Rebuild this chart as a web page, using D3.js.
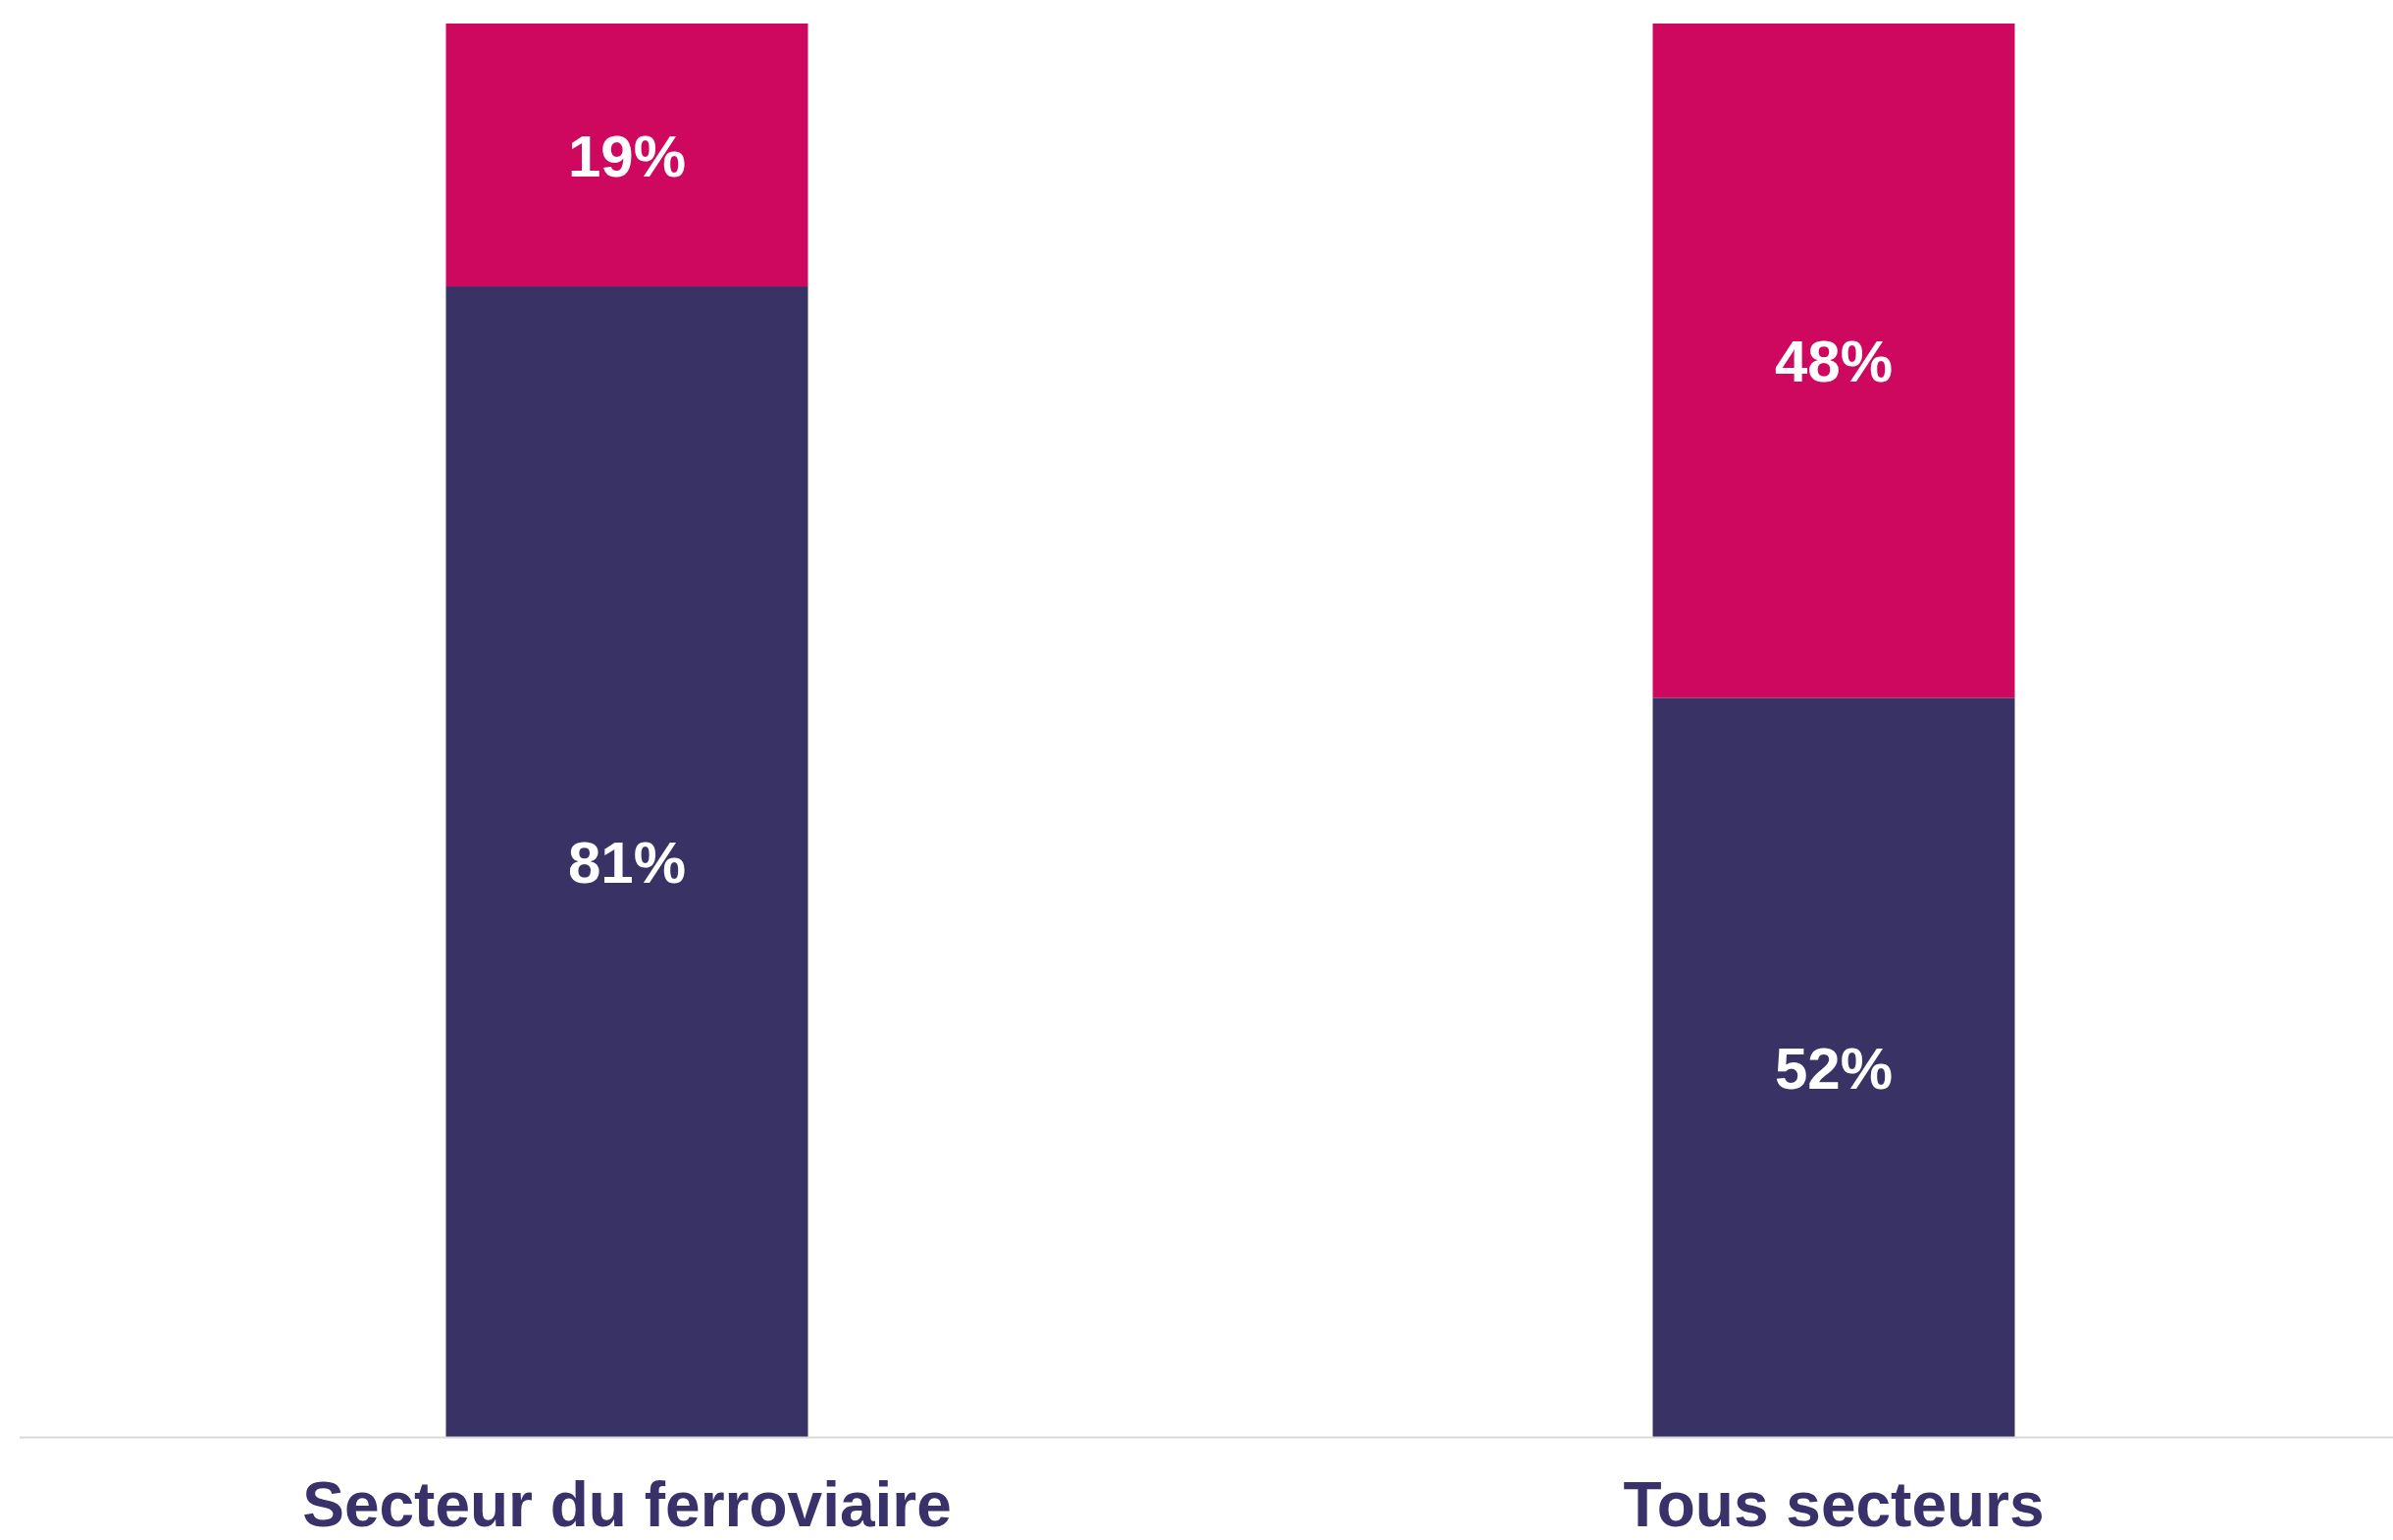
<!DOCTYPE html>
<meta charset="utf-8">
<script src="https://d3js.org/d3.v7.min.js"></script>
<style>
  body { margin: 0; background: #fff; }
</style>
<div id="my_div"></div>
<script>
// categories and series (share in %)
var categories = ["Secteur du ferroviaire", "Tous secteurs"];
var seriesKeys = ["bas", "haut"];
var basValues = [81.4, 52.3];
var hautValues = [18.6, 47.7];

var colors = { bas: "#393264", haut: "#ce075f" };

var width = 2439, height = 1570;
var margin = { top: 24, bottom: 105, left: 24 };

var data = categories.map(function(c, i) {
  return { cat: c, bas: basValues[i], haut: hautValues[i] };
});

var svg = d3.select("#my_div")
  .append("svg")
    .attr("width", width)
    .attr("height", height)
    .style("font-family", "'Liberation Sans', Arial, sans-serif");

// x: two bands, step 1230, bar width 369
var x = d3.scaleBand()
  .domain(categories)
  .range([margin.left, margin.left + 2460])
  .paddingInner(0.7)
  .paddingOuter(0.35);

var y = d3.scaleLinear()
  .domain([0, 100])
  .range([height - margin.bottom, margin.top]);

var stacked = d3.stack().keys(seriesKeys)(data);

var layers = svg.selectAll("g.layer")
  .data(stacked)
  .enter()
  .append("g")
    .attr("class", "layer")
    .attr("fill", function(d) { return colors[d.key]; });

layers.selectAll("rect")
  .data(function(d) { return d; })
  .enter()
  .append("rect")
    .attr("x", function(d) { return x(d.data.cat); })
    .attr("y", function(d) { return y(d[1]); })
    .attr("width", x.bandwidth())
    .attr("height", function(d) { return y(d[0]) - y(d[1]); });

// value labels
var fmt = d3.format(".0f");
layers.selectAll("text")
  .data(function(d) { return d; })
  .enter()
  .append("text")
    .attr("x", function(d) { return x(d.data.cat) + x.bandwidth() / 2; })
    .attr("y", function(d) { return (y(d[0]) + y(d[1])) / 2; })
    .attr("dy", "0.36em")
    .attr("text-anchor", "middle")
    .style("font-size", "60px")
    .style("font-weight", "bold")
    .style("fill", "#ffffff")
    .text(function(d) { return fmt(d[1] - d[0]) + "%"; });

// baseline
svg.append("line")
  .attr("x1", 20)
  .attr("x2", width)
  .attr("y1", y(0) + 0.5)
  .attr("y2", y(0) + 0.5)
  .style("stroke", "#d9d9d9")
  .style("stroke-width", 2);

// category labels
var xAxis = svg.append("g")
  .attr("transform", "translate(0," + y(0) + ")")
  .call(d3.axisBottom(x).tickSize(0).tickPadding(0));
xAxis.select(".domain").remove();
xAxis.selectAll("text")
  .attr("y", 91)
  .attr("dy", null)
  .style("font-family", "'Liberation Sans', Arial, sans-serif")
  .style("font-size", "64px")
  .style("font-weight", "bold")
  .style("fill", "#39316a");
</script>
